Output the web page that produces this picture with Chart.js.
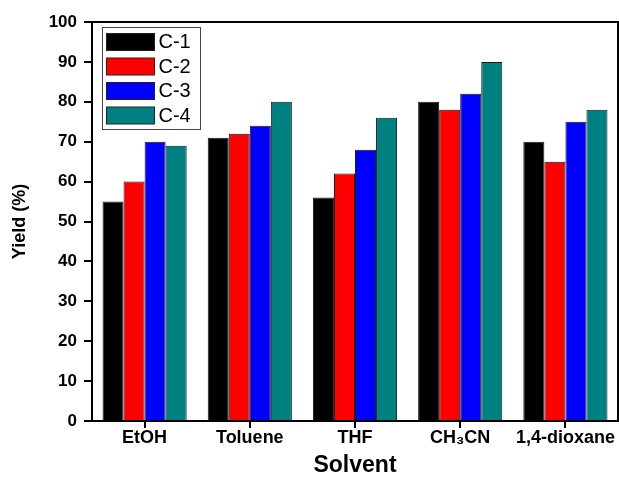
<!DOCTYPE html>
<html>
<head>
<meta charset="utf-8">
<script src="https://cdn.jsdelivr.net/npm/chart.js@4.4.1/dist/chart.umd.min.js"></script>
<style>
  body { margin: 0; background: #fff; }
</style>
</head>
<body>
<canvas id="yieldChart" width="619" height="477"></canvas>
<script>
// solvents along the x axis
const solvents = ['EtOH', 'Toluene', 'THF', 'CH\u2083CN', '1,4-dioxane'];

// yield (%) for each catalyst
const yieldC1 = [55, 71, 56, 80, 70];
const yieldC2 = [60, 72, 62, 78, 65];
const yieldC3 = [70, 74, 68, 82, 75];
const yieldC4 = [69, 80, 76, 90, 78];

// y axis range
const yMin = 0;
const yMax = 100;
const yStep = 10;

const FONT = 'Arial, "Liberation Sans", sans-serif';

// frame round the plot (Origin style box)
const plotFrame = {
    id: 'plotFrame',
    afterDatasetsDraw(chart) {
        const { ctx, chartArea: a } = chart;
        ctx.save();
        ctx.strokeStyle = '#000';
        ctx.lineWidth = 2;
        ctx.strokeRect(a.left, a.top, a.right - a.left, a.bottom - a.top);
        ctx.restore();
    }
};

// legend box sitting inside the plot, top-left
const insideLegend = {
    id: 'insideLegend',
    afterDraw(chart) {
        const { ctx, chartArea: a } = chart;
        const x0 = a.left + 10.5;
        const y0 = a.top + 5.5;
        ctx.save();
        ctx.strokeStyle = '#444';
        ctx.lineWidth = 1;
        ctx.strokeRect(x0, y0, 98, 102);
        ctx.font = '20px ' + FONT;
        ctx.textBaseline = 'middle';
        chart.data.datasets.forEach((ds, i) => {
            const sy = y0 + 6 + i * 24.5;
            ctx.fillStyle = ds.backgroundColor;
            ctx.fillRect(x0 + 4, sy, 48, 17);
            ctx.strokeStyle = '#222';
            ctx.strokeRect(x0 + 4, sy, 48, 17);
            ctx.fillStyle = '#000';
            ctx.fillText(ds.label, x0 + 56, sy + 9);
        });
        ctx.restore();
    }
};

function makeSet(label, values, color) {
    return {
        label: label,
        data: values,
        backgroundColor: color,
        borderColor: '#1a1a1a',
        borderWidth: 1,
        categoryPercentage: 0.8,
        barPercentage: 1.0
    };
}

const ctx = document.getElementById('yieldChart').getContext('2d');
new Chart(ctx, {
    type: 'bar',
    data: {
        labels: solvents,
        datasets: [
            makeSet('C-1', yieldC1, '#000000'),
            makeSet('C-2', yieldC2, '#ff0000'),
            makeSet('C-3', yieldC3, '#0000ff'),
            makeSet('C-4', yieldC4, '#008080')
        ]
    },
    options: {
        responsive: false,
        animation: false,
        layout: { padding: { top: 22, right: 1, left: 0, bottom: 0 } },
        plugins: {
            legend: { display: false },
            tooltip: { enabled: false }
        },
        scales: {
            x: {
                offset: true,
                grid: { offset: false, drawOnChartArea: false, drawTicks: true, tickLength: 7, color: '#000', lineWidth: 2 },
                border: { display: true, color: '#000', width: 2 },
                ticks: { color: '#000', padding: 1, maxRotation: 0, font: { family: FONT, size: 18, weight: 'bold', lineHeight: 1 } },
                title: { display: true, text: 'Solvent', color: '#000', padding: 0, font: { family: FONT, size: 23, weight: 'bold', lineHeight: 1 } },
                afterFit(scale) { scale.height = 56; }
            },
            y: {
                min: yMin,
                max: yMax,
                grid: { drawOnChartArea: false, drawTicks: true, tickLength: 8, color: '#000', lineWidth: 2 },
                border: { display: true, color: '#000', width: 2 },
                ticks: { stepSize: yStep, color: '#000', padding: 7, font: { family: FONT, size: 17, weight: 'bold' } },
                title: { display: true, text: 'Yield (%)', color: '#000', padding: { top: 11, bottom: 0 }, font: { family: FONT, size: 18, weight: 'bold', lineHeight: 1 } },
                afterFit(scale) { scale.width = 92; }
            }
        }
    },
    plugins: [plotFrame, insideLegend]
});
</script>
</body>
</html>
